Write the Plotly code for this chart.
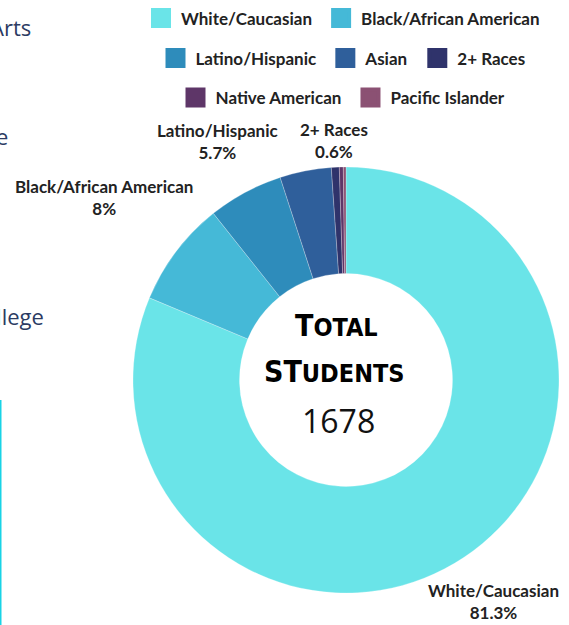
import math
import plotly.graph_objects as go

# ---------------- data ----------------
categories = ["White/Caucasian", "Black/African American", "Latino/Hispanic",
              "Asian", "2+ Races", "Native American", "Pacific Islander"]
shares = [81.3, 8.0, 5.7, 3.9, 0.6, 0.3, 0.2]          # percent of students
colors = ["#6ae4e8", "#45b9d7", "#2e8cbb", "#2f5f9b", "#2f336b", "#5e3668", "#8b5173"]
show_label = [True, True, True, False, True, False, False]
legend_rows = [["White/Caucasian", "Black/African American"],
               ["Latino/Hispanic", "Asian", "2+ Races"],
               ["Native American", "Pacific Islander"]]
total_students = 1678
side_texts = ["Arts", "e", "College"]   # fragments of neighbouring page text

# ---------------- layout constants ----------------
W, H = 569, 625
PIE_X = [133, 559]      # pixel extent of pie domain
PIE_Y = [167, 593]
label_dist = [266, 303, 271, 0, 240, 0, 0]   # radial distance of outside labels (px)
TXT = "#222222"
NB = "\u00a0"

fig = go.Figure()

fig.add_trace(go.Pie(
    labels=categories, values=shares,
    marker=dict(colors=colors, line=dict(color="rgba(255,255,255,0.5)", width=0.5)),
    hole=0.5, sort=False, direction="clockwise", rotation=0,
    textinfo="none", showlegend=False,
    domain=dict(x=[PIE_X[0] / W, PIE_X[1] / W], y=[1 - PIE_Y[1] / H, 1 - PIE_Y[0] / H]),
    hoverinfo="label+percent",
))

# legend rows (dummy traces, one legend per centred row)
legend_names = ["legend", "legend2", "legend3"]
legend_y = [1 - 18.5 / H, 1 - 58.5 / H, 1 - 98 / H]
for r, row in enumerate(legend_rows):
    for j, name in enumerate(row):
        c = colors[categories.index(name)]
        disp = name + (NB if j < len(row) - 1 else "")
        fig.add_trace(go.Scatter(
            x=[None], y=[None], mode="markers", name=disp,
            marker=dict(symbol="square", size=16, color=c, line=dict(color=c, width=4)),
            legend=legend_names[r], showlegend=True, hoverinfo="skip",
        ))

legend_font = dict(family="Lato", size=17, color=TXT, weight=700)
layout_legends = {}
for r, ln in enumerate(legend_names):
    layout_legends[ln] = dict(
        orientation="h", x=343 / W, xanchor="center", y=legend_y[r], yanchor="middle",
        font=legend_font, bgcolor="rgba(0,0,0,0)", borderwidth=0,
    )

# outside slice labels, direction from each slice's mid-angle
cx = (PIE_X[0] + PIE_X[1]) / 2
cy = (PIE_Y[0] + PIE_Y[1]) / 2
total = sum(shares)
annotations = []
cum = 0.0
for lab, v, show, d in zip(categories, shares, show_label, label_dist):
    mid = (cum + v / 2) / total * 2 * math.pi
    cum += v
    if not show:
        continue
    px = cx + d * math.sin(mid)
    py = cy - d * math.cos(mid)
    pct = f"{v / total * 100:.3g}%"
    annotations.append(dict(
        text=f"{lab}<br>{pct}", x=px / W, y=1 - py / H, xref="paper", yref="paper",
        xanchor="center", yanchor="middle", showarrow=False,
        font=dict(family="Lato", size=17, color=TXT, weight=700)))

annotations += [
    dict(text="T<span style='font-size:25px'>OTAL</span>", x=337 / W, y=1 - 325 / H,
         xref="paper", yref="paper", xanchor="center", yanchor="middle", showarrow=False,
         font=dict(family="DejaVu Sans Condensed", size=30, color="#000000", weight=700)),
    dict(text="ST<span style='font-size:25px'>UDENTS</span>", x=334 / W, y=1 - 372 / H,
         xref="paper", yref="paper", xanchor="center", yanchor="middle", showarrow=False,
         font=dict(family="DejaVu Sans Condensed", size=30, color="#000000", weight=700)),
    dict(text=str(total_students), x=338 / W, y=1 - 420 / H,
         xref="paper", yref="paper", xanchor="center", yanchor="middle", showarrow=False,
         font=dict(family="Open Sans", size=32, color="#111111", weight=400)),
]
side_pos = [(33, 27), (10, 136), (46, 316)]
for t, (sx, sy) in zip(side_texts, side_pos):
    annotations.append(dict(text=t, x=sx / W, y=1 - sy / H, xref="paper", yref="paper",
                            xanchor="right", yanchor="middle", showarrow=False,
                            font=dict(family="Open Sans", size=22, color="#2c3b63")))

fig.update_layout(
    width=W, height=H, margin=dict(l=0, r=0, t=0, b=0, autoexpand=False),
    paper_bgcolor="white", plot_bgcolor="white",
    xaxis=dict(visible=False), yaxis=dict(visible=False),
    annotations=annotations,
    shapes=[dict(type="line", xref="paper", yref="paper", x0=0, x1=0, y0=0, y1=1 - 400 / H,
                 line=dict(color="#19d3e6", width=3))],
    **layout_legends,
)

fig.write_html("out.html", config={"displayModeBar": False},
               post_script="document.body.style.margin='0';")
